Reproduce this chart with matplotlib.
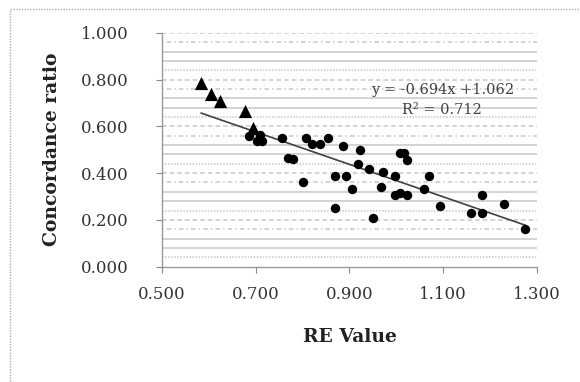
import matplotlib
matplotlib.use("Agg")
import matplotlib.pyplot as plt
from matplotlib.patches import Rectangle
import numpy as np

# Data
tri_x = [0.584, 0.604, 0.625, 0.677, 0.694]
tri_y = [0.786, 0.739, 0.708, 0.667, 0.593]

circ_x = [0.685, 0.710, 0.703, 0.713, 0.757, 0.768, 0.779, 0.801, 0.808, 0.820,
          0.838, 0.854, 0.886, 0.870, 0.893, 0.870, 0.905, 0.923, 0.919, 0.941,
          0.950, 0.968, 0.972, 0.998, 1.008, 1.017, 1.023, 0.998, 1.007, 1.023,
          1.058, 1.069, 1.094, 1.159, 1.183, 1.183, 1.230, 1.275]
circ_y = [0.559, 0.563, 0.537, 0.538, 0.549, 0.466, 0.459, 0.360, 0.549, 0.524,
          0.524, 0.549, 0.516, 0.389, 0.389, 0.250, 0.331, 0.497, 0.438, 0.416,
          0.208, 0.339, 0.406, 0.388, 0.487, 0.487, 0.457, 0.306, 0.317, 0.308,
          0.330, 0.388, 0.259, 0.231, 0.308, 0.228, 0.267, 0.160]

slope = -0.694
intercept = 1.062
r2 = 0.712

x_ticks = [0.5, 0.7, 0.9, 1.1, 1.3]
y_ticks = [0.0, 0.2, 0.4, 0.6, 0.8, 1.0]

plt.rcParams['font.family'] = ['DejaVu Serif']

fig = plt.figure(figsize=(5.8, 3.82), dpi=100)
ax = fig.add_axes([0.279, 0.302, 0.647, 0.612])

# patterned-looking gridlines
styles = [(0, (1, 1)), '-', '-', (0, (1, 2, 3, 2)), (0, (3, 2))]
grid_vals = np.arange(0.04, 1.0001, 0.04)
for i, g in enumerate(grid_vals):
    ax.axhline(g, color='#c8c8c8', lw=1.1, ls=styles[i % len(styles)], zorder=0)

ax.scatter(circ_x, circ_y, s=46, marker='o', color='black', zorder=3, linewidths=0)
ax.scatter(tri_x, tri_y, s=90, marker='^', color='black', zorder=3, linewidths=0)

all_x = tri_x + circ_x
xl = np.array([min(all_x), max(all_x)])
ax.plot(xl, slope * xl + intercept, color='#404040', lw=1.2, zorder=2)

ax.text(1.098, 0.757, f"y = {slope:.3f}x +{intercept:.3f}", ha='center', va='center',
        fontsize=10.5, color='#404040')
ax.text(1.098, 0.672, f"R² = {r2:.3f}", ha='center', va='center',
        fontsize=10.5, color='#404040')

ax.set_xlim(0.5, 1.3)
ax.set_ylim(0.0, 1.0)
ax.set_xticks(x_ticks)
ax.set_yticks(y_ticks)
ax.set_xticklabels([f"{v:.3f}" for v in x_ticks])
ax.set_yticklabels([f"{v:.3f}" for v in y_ticks])
ax.tick_params(axis='both', labelsize=12, colors='#888888', labelcolor='#333333',
               length=4, direction='out')
ax.tick_params(axis='x', pad=10)
ax.tick_params(axis='y', pad=20)

for s in ['top', 'right']:
    ax.spines[s].set_visible(False)
for s in ['left', 'bottom']:
    ax.spines[s].set_color('#999999')
    ax.spines[s].set_linewidth(1.0)

ax.set_xlabel("RE Value", fontsize=13.5, fontweight='bold', labelpad=18, color='#222222')
ax.set_ylabel("Concordance ratio", fontsize=13.5, fontweight='bold', labelpad=14, color='#222222')

fig.patches.append(Rectangle((10 / 580, -0.1), 1.2, 1 - 9 / 382 + 0.1,
                             transform=fig.transFigure, fill=False,
                             edgecolor='#b0b0b0', lw=1.0, ls=(0, (1, 1))))

fig.savefig("out.png", dpi=100)
